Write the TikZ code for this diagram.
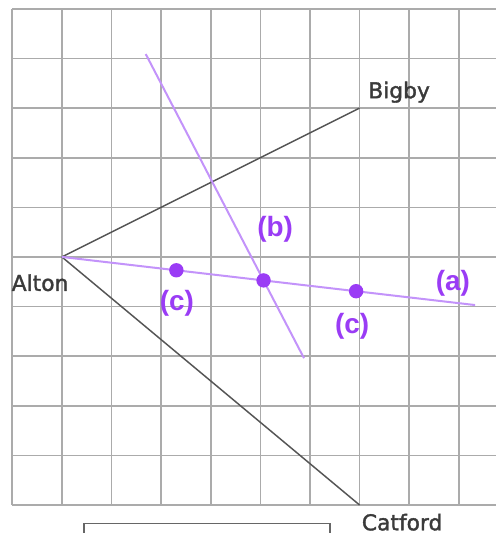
\documentclass[tikz,border=0pt]{standalone}
\usepackage{fontspec}
\setmainfont{DejaVu Sans}
\newfontfamily\townfont[FakeBold=1.6]{DejaVu Sans}
\newfontfamily\tagfont{Liberation Sans}
\usetikzlibrary{calc}
\definecolor{GridGrey}{HTML}{ABABAB}
\definecolor{RoadGrey}{HTML}{555555}
\definecolor{TownInk}{HTML}{3A3A3A}
\definecolor{ConstrLilac}{HTML}{C393FA}
\definecolor{ConstrViolet}{HTML}{9A3CF5}

\begin{document}
\begin{tikzpicture}[
  x=1cm,
  y=1cm,
  gridline/.style={draw=GridGrey, line width=0.95pt},
  road/.style={draw=RoadGrey, line width=0.85pt},
  constr/.style={draw=ConstrLilac, line width=1.15pt},
  frameline/.style={draw=RoadGrey!90, line width=0.9pt},
  town/.style={font=\townfont\fontsize{12.5}{14}\selectfont, text=TownInk, inner sep=0pt},
  tag/.style={font=\tagfont\bfseries\fontsize{16}{18}\selectfont, text=ConstrViolet, inner sep=0pt},
  dot/.style={fill=ConstrViolet}
]
\useasboundingbox (-0.248,-0.565) rectangle (9.732,10.18);

% squared paper
\draw[gridline] (0,0) grid (9.75,10);

% towns
\coordinate (alton) at (1,5);
\coordinate (bigby) at (7,8);
\coordinate (catford) at (7,0);
\draw[road] (alton) -- (bigby);
\draw[road] (alton) -- (catford);

\node[town] (altonlbl) at (0.56,4.48) {Alton};
\node[town, anchor=base west] (bigbylbl) at (7.17,8.20) {Bigby};
\node[town, anchor=north west] (catfordlbl) at (7.04,-0.17) {Catford};

% constructions
\coordinate (aEnd) at (9.33,4.03);
\coordinate (bTop) at (2.69,9.09);
\coordinate (bBot) at (5.88,2.96);
\draw[constr] (alton) -- (aEnd);
\draw[constr] (bTop) -- (bBot);

\fill[dot] (intersection of alton--aEnd and bTop--bBot) circle (0.145);
\fill[dot] ($(alton)!0.277!(aEnd)$) circle (0.145);
\fill[dot] ($(alton)!0.712!(aEnd)$) circle (0.145);

\node[tag] (tagA) at (8.88,4.46) {(a)};
\node[tag] (tagB) at (5.30,5.56) {(b)};
\node[tag] (tagC1) at (3.32,4.07) {(c)};
\node[tag] (tagC2) at (6.85,3.60) {(c)};

% box below the grid
\draw[frameline] (1.45,-0.6) -- (1.45,-0.37) -- (6.40,-0.37) -- (6.40,-0.6);
\end{tikzpicture}
\end{document}
